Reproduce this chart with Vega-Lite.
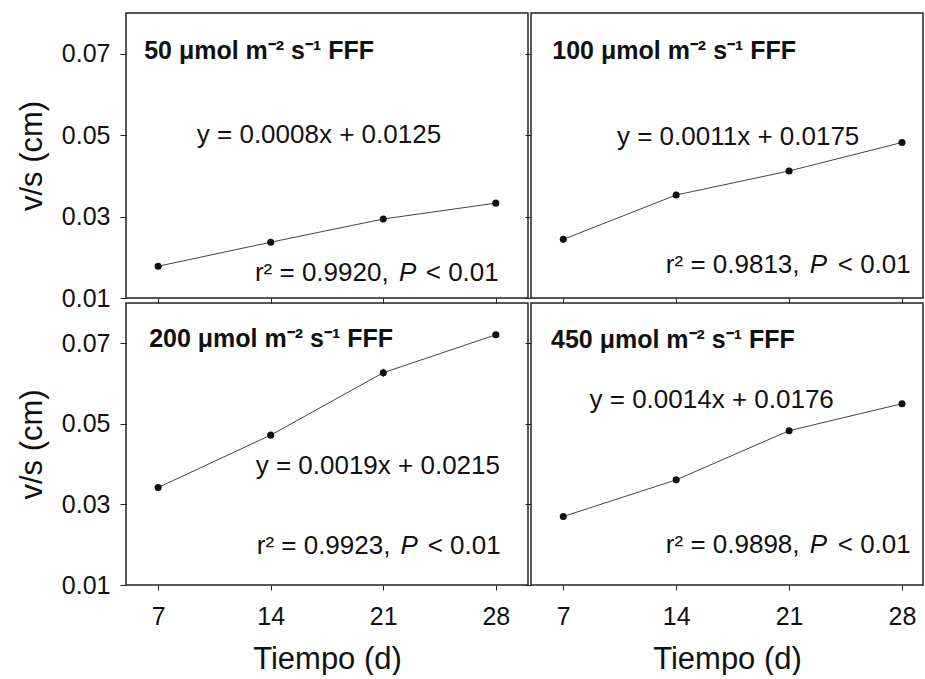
{
  "$schema": "https://vega.github.io/schema/vega-lite/v6.json",
  "autosize": {"type": "pad"},
  "padding": {"left": 15, "top": 12, "right": 0, "bottom": 0},
  "background": "white",
  "datasets": {
    "pts": [
      {"panel": "50", "dia": 7, "vs": 0.0178, "lo": 0.0175, "hi": 0.0181},
      {"panel": "50", "dia": 14, "vs": 0.0237, "lo": 0.0234, "hi": 0.0240},
      {"panel": "50", "dia": 21, "vs": 0.0294, "lo": 0.0291, "hi": 0.0297},
      {"panel": "50", "dia": 28, "vs": 0.0333, "lo": 0.0330, "hi": 0.0336},
      {"panel": "100", "dia": 7, "vs": 0.0244, "lo": 0.0241, "hi": 0.0247},
      {"panel": "100", "dia": 14, "vs": 0.0353, "lo": 0.0350, "hi": 0.0356},
      {"panel": "100", "dia": 21, "vs": 0.0412, "lo": 0.0409, "hi": 0.0415},
      {"panel": "100", "dia": 28, "vs": 0.0482, "lo": 0.0479, "hi": 0.0485},
      {"panel": "200", "dia": 7, "vs": 0.0342, "lo": 0.0339, "hi": 0.0345},
      {"panel": "200", "dia": 14, "vs": 0.0472, "lo": 0.0467, "hi": 0.0477},
      {"panel": "200", "dia": 21, "vs": 0.0627, "lo": 0.0617, "hi": 0.0637},
      {"panel": "200", "dia": 28, "vs": 0.0721, "lo": 0.0716, "hi": 0.0726},
      {"panel": "450", "dia": 7, "vs": 0.0270, "lo": 0.0267, "hi": 0.0273},
      {"panel": "450", "dia": 14, "vs": 0.0361, "lo": 0.0358, "hi": 0.0364},
      {"panel": "450", "dia": 21, "vs": 0.0483, "lo": 0.0480, "hi": 0.0486},
      {"panel": "450", "dia": 28, "vs": 0.0550, "lo": 0.0547, "hi": 0.0553}
    ],
    "lbl": [
      {"panel": "50", "kind": "title", "dia": 6.13, "vs": 0.0687, "text": "50 μmol m⁻² s⁻¹ FFF"},
      {"panel": "50", "kind": "eq", "dia": 17.0, "vs": 0.0481, "text": "y = 0.0008x + 0.0125"},
      {"panel": "50", "kind": "r2", "dia": 13.02, "vs": 0.0141, "text": "r² = 0.9920,"},
      {"panel": "50", "kind": "P", "dia": 21.97, "vs": 0.0141, "text": "P"},
      {"panel": "50", "kind": "lt", "dia": 28.18, "vs": 0.0141, "text": "< 0.01"},
      {"panel": "100", "kind": "title", "dia": 6.32, "vs": 0.0687, "text": "100 μmol m⁻² s⁻¹ FFF"},
      {"panel": "100", "kind": "eq", "dia": 17.84, "vs": 0.0477, "text": "y = 0.0011x + 0.0175"},
      {"panel": "100", "kind": "r2", "dia": 13.36, "vs": 0.0162, "text": "r² = 0.9813,"},
      {"panel": "100", "kind": "P", "dia": 22.28, "vs": 0.0162, "text": "P"},
      {"panel": "100", "kind": "lt", "dia": 28.54, "vs": 0.0162, "text": "< 0.01"},
      {"panel": "200", "kind": "title", "dia": 6.44, "vs": 0.0692, "text": "200 μmol m⁻² s⁻¹ FFF"},
      {"panel": "200", "kind": "eq", "dia": 20.66, "vs": 0.0375, "text": "y = 0.0019x + 0.0215"},
      {"panel": "200", "kind": "r2", "dia": 13.13, "vs": 0.0176, "text": "r² = 0.9923,"},
      {"panel": "200", "kind": "P", "dia": 22.07, "vs": 0.0176, "text": "P"},
      {"panel": "200", "kind": "lt", "dia": 28.3, "vs": 0.0176, "text": "< 0.01"},
      {"panel": "450", "kind": "title", "dia": 6.24, "vs": 0.0689, "text": "450 μmol m⁻² s⁻¹ FFF"},
      {"panel": "450", "kind": "eq", "dia": 16.2, "vs": 0.0540, "text": "y = 0.0014x + 0.0176"},
      {"panel": "450", "kind": "r2", "dia": 13.36, "vs": 0.0180, "text": "r² = 0.9898,"},
      {"panel": "450", "kind": "P", "dia": 22.28, "vs": 0.0180, "text": "P"},
      {"panel": "450", "kind": "lt", "dia": 28.54, "vs": 0.0180, "text": "< 0.01"}
    ]
  },
  "columns": 2,
  "spacing": {"row": 5, "column": 3},
  "bounds": "flush",
  "concat": [
    {
      "width": 402, "height": 285,
      "encoding": {
        "x": {"field": "dia", "type": "quantitative", "scale": {"domain": [5, 30], "nice": false, "zero": false},
              "axis": {"values": [7, 14, 21, 28], "labels": false, "title": null, "tickSize": 5, "domain": false}},
        "y": {"field": "vs", "type": "quantitative", "scale": {"domain": [0.01, 0.08], "nice": false, "zero": false},
              "axis": {"values": [0.01, 0.03, 0.05, 0.07], "format": ".2f", "title": "v/s (cm)", "tickSize": 6, "labelPadding": 10, "titlePadding": 13, "domain": false}}
      },
      "layer": [
        {"data": {"name": "pts"}, "transform": [{"filter": "datum.panel == '50'"}], "mark": {"type": "rule", "color": "#222", "strokeWidth": 1.2}, "encoding": {"y": {"field": "lo", "type": "quantitative"}, "y2": {"field": "hi"}}},
        {"data": {"name": "pts"}, "transform": [{"filter": "datum.panel == '50'"}], "mark": {"type": "line", "color": "#444", "strokeWidth": 1}},
        {"data": {"name": "pts"}, "transform": [{"filter": "datum.panel == '50'"}], "mark": {"type": "point", "filled": true, "color": "#111", "size": 50, "opacity": 1}},
        {"data": {"name": "lbl"}, "transform": [{"filter": "datum.panel == '50' && datum.kind == 'title'"}], "mark": {"type": "text", "align": "left", "baseline": "alphabetic", "fontSize": 25, "fontWeight": "bold", "font": "Liberation Sans", "color": "#111"}, "encoding": {"text": {"field": "text"}}},
        {"data": {"name": "lbl"}, "transform": [{"filter": "datum.panel == '50' && datum.kind == 'eq'"}], "mark": {"type": "text", "align": "center", "baseline": "alphabetic", "fontSize": 26, "font": "Liberation Sans", "color": "#111"}, "encoding": {"text": {"field": "text"}}},
        {"data": {"name": "lbl"}, "transform": [{"filter": "datum.panel == '50' && datum.kind == 'r2'"}], "mark": {"type": "text", "align": "left", "baseline": "alphabetic", "fontSize": 26, "font": "Liberation Sans", "color": "#111"}, "encoding": {"text": {"field": "text"}}},
        {"data": {"name": "lbl"}, "transform": [{"filter": "datum.panel == '50' && datum.kind == 'lt'"}], "mark": {"type": "text", "align": "right", "baseline": "alphabetic", "fontSize": 26, "font": "Liberation Sans", "color": "#111"}, "encoding": {"text": {"field": "text"}}},
        {"data": {"name": "lbl"}, "transform": [{"filter": "datum.panel == '50' && datum.kind == 'P'"}], "mark": {"type": "text", "align": "left", "baseline": "alphabetic", "fontSize": 26, "fontStyle": "italic", "font": "Liberation Sans", "color": "#111"}, "encoding": {"text": {"field": "text"}}}
      ]
    },
    {
      "width": 392, "height": 285,
      "encoding": {
        "x": {"field": "dia", "type": "quantitative", "scale": {"domain": [5, 29.3], "nice": false, "zero": false},
              "axis": {"values": [7, 14, 21, 28], "labels": false, "title": null, "tickSize": 5, "domain": false}},
        "y": {"field": "vs", "type": "quantitative", "scale": {"domain": [0.01, 0.08], "nice": false, "zero": false},
              "axis": {"values": [0.01, 0.03, 0.05, 0.07], "labels": false, "title": null, "tickSize": 6, "domain": false}}
      },
      "layer": [
        {"data": {"name": "pts"}, "transform": [{"filter": "datum.panel == '100'"}], "mark": {"type": "rule", "color": "#222", "strokeWidth": 1.2}, "encoding": {"y": {"field": "lo", "type": "quantitative"}, "y2": {"field": "hi"}}},
        {"data": {"name": "pts"}, "transform": [{"filter": "datum.panel == '100'"}], "mark": {"type": "line", "color": "#444", "strokeWidth": 1}},
        {"data": {"name": "pts"}, "transform": [{"filter": "datum.panel == '100'"}], "mark": {"type": "point", "filled": true, "color": "#111", "size": 50, "opacity": 1}},
        {"data": {"name": "lbl"}, "transform": [{"filter": "datum.panel == '100' && datum.kind == 'title'"}], "mark": {"type": "text", "align": "left", "baseline": "alphabetic", "fontSize": 25, "fontWeight": "bold", "font": "Liberation Sans", "color": "#111"}, "encoding": {"text": {"field": "text"}}},
        {"data": {"name": "lbl"}, "transform": [{"filter": "datum.panel == '100' && datum.kind == 'eq'"}], "mark": {"type": "text", "align": "center", "baseline": "alphabetic", "fontSize": 26, "font": "Liberation Sans", "color": "#111"}, "encoding": {"text": {"field": "text"}}},
        {"data": {"name": "lbl"}, "transform": [{"filter": "datum.panel == '100' && datum.kind == 'r2'"}], "mark": {"type": "text", "align": "left", "baseline": "alphabetic", "fontSize": 26, "font": "Liberation Sans", "color": "#111"}, "encoding": {"text": {"field": "text"}}},
        {"data": {"name": "lbl"}, "transform": [{"filter": "datum.panel == '100' && datum.kind == 'lt'"}], "mark": {"type": "text", "align": "right", "baseline": "alphabetic", "fontSize": 26, "font": "Liberation Sans", "color": "#111"}, "encoding": {"text": {"field": "text"}}},
        {"data": {"name": "lbl"}, "transform": [{"filter": "datum.panel == '100' && datum.kind == 'P'"}], "mark": {"type": "text", "align": "left", "baseline": "alphabetic", "fontSize": 26, "fontStyle": "italic", "font": "Liberation Sans", "color": "#111"}, "encoding": {"text": {"field": "text"}}}
      ]
    },
    {
      "width": 402, "height": 282,
      "encoding": {
        "x": {"field": "dia", "type": "quantitative", "scale": {"domain": [5, 30], "nice": false, "zero": false},
              "axis": {"values": [7, 14, 21, 28], "title": "Tiempo (d)", "tickSize": 5, "labelPadding": 14, "titlePadding": 15, "domain": false}},
        "y": {"field": "vs", "type": "quantitative", "scale": {"domain": [0.01, 0.08], "nice": false, "zero": false},
              "axis": {"values": [0.01, 0.03, 0.05, 0.07], "format": ".2f", "title": "v/s (cm)", "tickSize": 6, "labelPadding": 10, "titlePadding": 13, "domain": false}}
      },
      "layer": [
        {"data": {"name": "pts"}, "transform": [{"filter": "datum.panel == '200'"}], "mark": {"type": "rule", "color": "#222", "strokeWidth": 1.2}, "encoding": {"y": {"field": "lo", "type": "quantitative"}, "y2": {"field": "hi"}}},
        {"data": {"name": "pts"}, "transform": [{"filter": "datum.panel == '200'"}], "mark": {"type": "line", "color": "#444", "strokeWidth": 1}},
        {"data": {"name": "pts"}, "transform": [{"filter": "datum.panel == '200'"}], "mark": {"type": "point", "filled": true, "color": "#111", "size": 50, "opacity": 1}},
        {"data": {"name": "lbl"}, "transform": [{"filter": "datum.panel == '200' && datum.kind == 'title'"}], "mark": {"type": "text", "align": "left", "baseline": "alphabetic", "fontSize": 25, "fontWeight": "bold", "font": "Liberation Sans", "color": "#111"}, "encoding": {"text": {"field": "text"}}},
        {"data": {"name": "lbl"}, "transform": [{"filter": "datum.panel == '200' && datum.kind == 'eq'"}], "mark": {"type": "text", "align": "center", "baseline": "alphabetic", "fontSize": 26, "font": "Liberation Sans", "color": "#111"}, "encoding": {"text": {"field": "text"}}},
        {"data": {"name": "lbl"}, "transform": [{"filter": "datum.panel == '200' && datum.kind == 'r2'"}], "mark": {"type": "text", "align": "left", "baseline": "alphabetic", "fontSize": 26, "font": "Liberation Sans", "color": "#111"}, "encoding": {"text": {"field": "text"}}},
        {"data": {"name": "lbl"}, "transform": [{"filter": "datum.panel == '200' && datum.kind == 'lt'"}], "mark": {"type": "text", "align": "right", "baseline": "alphabetic", "fontSize": 26, "font": "Liberation Sans", "color": "#111"}, "encoding": {"text": {"field": "text"}}},
        {"data": {"name": "lbl"}, "transform": [{"filter": "datum.panel == '200' && datum.kind == 'P'"}], "mark": {"type": "text", "align": "left", "baseline": "alphabetic", "fontSize": 26, "fontStyle": "italic", "font": "Liberation Sans", "color": "#111"}, "encoding": {"text": {"field": "text"}}}
      ]
    },
    {
      "width": 392, "height": 282,
      "encoding": {
        "x": {"field": "dia", "type": "quantitative", "scale": {"domain": [5, 29.3], "nice": false, "zero": false},
              "axis": {"values": [7, 14, 21, 28], "title": "Tiempo (d)", "tickSize": 5, "labelPadding": 14, "titlePadding": 15, "domain": false}},
        "y": {"field": "vs", "type": "quantitative", "scale": {"domain": [0.01, 0.08], "nice": false, "zero": false},
              "axis": {"values": [0.01, 0.03, 0.05, 0.07], "labels": false, "title": null, "tickSize": 6, "domain": false}}
      },
      "layer": [
        {"data": {"name": "pts"}, "transform": [{"filter": "datum.panel == '450'"}], "mark": {"type": "rule", "color": "#222", "strokeWidth": 1.2}, "encoding": {"y": {"field": "lo", "type": "quantitative"}, "y2": {"field": "hi"}}},
        {"data": {"name": "pts"}, "transform": [{"filter": "datum.panel == '450'"}], "mark": {"type": "line", "color": "#444", "strokeWidth": 1}},
        {"data": {"name": "pts"}, "transform": [{"filter": "datum.panel == '450'"}], "mark": {"type": "point", "filled": true, "color": "#111", "size": 50, "opacity": 1}},
        {"data": {"name": "lbl"}, "transform": [{"filter": "datum.panel == '450' && datum.kind == 'title'"}], "mark": {"type": "text", "align": "left", "baseline": "alphabetic", "fontSize": 25, "fontWeight": "bold", "font": "Liberation Sans", "color": "#111"}, "encoding": {"text": {"field": "text"}}},
        {"data": {"name": "lbl"}, "transform": [{"filter": "datum.panel == '450' && datum.kind == 'eq'"}], "mark": {"type": "text", "align": "center", "baseline": "alphabetic", "fontSize": 26, "font": "Liberation Sans", "color": "#111"}, "encoding": {"text": {"field": "text"}}},
        {"data": {"name": "lbl"}, "transform": [{"filter": "datum.panel == '450' && datum.kind == 'r2'"}], "mark": {"type": "text", "align": "left", "baseline": "alphabetic", "fontSize": 26, "font": "Liberation Sans", "color": "#111"}, "encoding": {"text": {"field": "text"}}},
        {"data": {"name": "lbl"}, "transform": [{"filter": "datum.panel == '450' && datum.kind == 'lt'"}], "mark": {"type": "text", "align": "right", "baseline": "alphabetic", "fontSize": 26, "font": "Liberation Sans", "color": "#111"}, "encoding": {"text": {"field": "text"}}},
        {"data": {"name": "lbl"}, "transform": [{"filter": "datum.panel == '450' && datum.kind == 'P'"}], "mark": {"type": "text", "align": "left", "baseline": "alphabetic", "fontSize": 26, "fontStyle": "italic", "font": "Liberation Sans", "color": "#111"}, "encoding": {"text": {"field": "text"}}}
      ]
    }
  ],
  "config": {
    "font": "Liberation Sans",
    "view": {"stroke": "#222", "strokeWidth": 1.5},
    "axis": {"grid": false, "labelFont": "Liberation Sans", "labelFontSize": 25, "labelColor": "#111", "titleFont": "Liberation Sans", "titleFontSize": 31, "titleFontWeight": "normal", "titleColor": "#111", "tickColor": "#222", "tickWidth": 1}
  }
}
